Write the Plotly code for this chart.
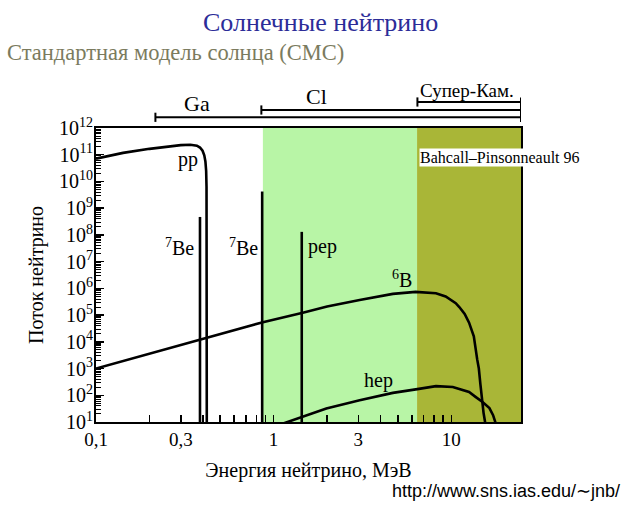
import math
import plotly.graph_objects as go

# ---------------- data ----------------
pp_energy = [0.1, 0.142, 0.2, 0.25, 0.3, 0.34, 0.37, 0.385, 0.398, 0.407, 0.413, 0.417, 0.419, 0.4205]
pp_flux = [7.1e10, 1.17e11, 1.66e11, 2.04e11, 2.29e11, 2.37e11, 2.19e11, 1.86e11,
           1.41e11, 9.5e10, 5.6e10, 2.5e10, 6.3e9, 3]

line_labels = ["<sup>7</sup>Be", "<sup>7</sup>Be", "pep"]
line_energy = [0.385, 0.862, 1.44]
line_flux = [4.7e8, 4.2e9, 1.3e8]

b8_energy = [0.1, 0.2, 0.384, 0.87, 1.46, 2.0, 3.05, 4.69, 6.3, 8.2, 9.3, 10.6, 11.1,
             11.9, 12.6, 13.4, 14.0, 14.3, 14.6, 14.9, 15.2, 15.5, 15.8]
b8_flux = [1.0e3, 3.6e3, 1.23e4, 5.4e4, 1.23e5, 2.1e5, 3.7e5, 6.2e5, 7.4e5, 6.6e5, 5.0e5,
           2.8e5, 2.0e5, 1.1e5, 5.2e4, 1.6e4, 2.2e3, 1.0e3, 250, 65, 22, 10, 3]

hep_energy = [1.0, 1.45, 1.98, 3.05, 4.69, 6.45, 8.2, 10.2, 12.6, 13.7, 15.0, 16.4, 17.2, 17.7, 18.0]
hep_flux = [6.6, 15.5, 32, 65, 123, 170, 219, 204, 132, 87, 56, 33, 18, 10, 4]

detector_names = ["Ga", "Cl", "Супер-Кам."]
detector_threshold = [0.216, 0.853, 6.45]

region_edges = [0.87, 6.42, 24.7]          # Cl-sensitive band, Super-K band
region_colors = ["#B8F5A6", "#A9B637"]

x_ticks = [0.1, 0.3, 1, 3, 10]
x_tick_text = ["0,1", "0,3", "1", "3", "10"]
x_minor = [0.2, 0.4, 0.5, 0.6, 0.7, 0.8, 0.9, 2, 4, 5, 6, 7, 8, 9]

y_exponents = list(range(1, 13))
y_ticks = [10 ** k for k in y_exponents]
y_tick_text = ["10<sup>%d</sup>" % k for k in y_exponents]
y_minor = [m * 10 ** k for k in range(1, 12) for m in range(2, 10)]

E_MIN, E_MAX = 0.1, 24.7
F_MIN, F_MAX = 1e1, 1e12
F_FLOOR = 3  # below the axis: vertical lines run off the bottom

SERIF = "Liberation Serif"
LW = 2.6

# the page's body margin is removed by post_script, so screen px == figure px
W, H = 624, 506
PLOT_L, PLOT_R, PLOT_T, PLOT_B = 96, 521, 128, 422     # screen px of main plot
STRIP_T = 80                                            # top of detector strip
L = PLOT_L
R = W - PLOT_R
T = STRIP_T
B = H - PLOT_B
pw, ph = W - L - R, H - T - B


def px(sx):
    return (sx - L) / pw


def py(sy):
    return (H - B - sy) / ph


main_top = (PLOT_B - PLOT_T) / ph

fig = go.Figure()

# shaded sensitivity regions
for i, col in enumerate(region_colors):
    fig.add_vrect(x0=region_edges[i], x1=region_edges[i + 1], fillcolor=col,
                  line_width=0, layer="below", opacity=1)

# continuum spectra
for name, xs, ys in [("pp", pp_energy, pp_flux), ("8B", b8_energy, b8_flux),
                     ("hep", hep_energy, hep_flux)]:
    fig.add_trace(go.Scatter(x=xs, y=ys, mode="lines",
                             line=dict(color="black", width=LW), name=name))

# line sources
for lab, e, f in zip(line_labels, line_energy, line_flux):
    fig.add_trace(go.Scatter(x=[e, e], y=[F_FLOOR, f], mode="lines",
                             line=dict(color="black", width=LW), name=lab))

# detector threshold brackets (upper strip, y2 in pixels above plot top)
bracket_level = [10.7, 18.0, 26.0]
HALF = 4.6
for thr, lvl in zip(detector_threshold, bracket_level):
    fig.add_trace(go.Scatter(
        x=[thr, thr, None, thr, E_MAX, None, E_MAX, E_MAX],
        y=[lvl - HALF, lvl + HALF, None, lvl, lvl, None, lvl - HALF, lvl + HALF],
        mode="lines", line=dict(color="black", width=2), yaxis="y2",
        cliponaxis=False, showlegend=False))

det_label_pos = [(0.368, 25.0, 22), (1.74, 31.5, 22), (12.3, 38.0, 19)]
for name, (xe, yl, fs) in zip(detector_names, det_label_pos):
    fig.add_annotation(x=math.log10(xe), y=yl, xref="x", yref="y2", text=name,
                       showarrow=False, yanchor="middle",
                       font=dict(family=SERIF, size=fs, color="black"))

# curve labels
labels = [
    ("pp", 0.329, 6.5e10),
    (line_labels[0], 0.296, 3.6e7),
    (line_labels[1], 0.675, 3.6e7),
    (line_labels[2], 1.88, 3.6e7),
    ("<sup>6</sup>B", 5.3, 2.2e6),
    ("hep", 3.9, 3.5e2),
]
for txt, xe, yf in labels:
    fig.add_annotation(x=math.log10(xe), y=math.log10(yf), xref="x", yref="y", text=txt,
                       showarrow=False, font=dict(family=SERIF, size=20, color="black"))

fig.add_annotation(x=math.log10(6.62), y=math.log10(7.6e10), xref="x", yref="y",
                   text="Bahcall–Pinsonneault 96", showarrow=False, xanchor="left",
                   yanchor="middle", bgcolor="white", borderpad=0,
                   font=dict(family=SERIF, size=16, color="black"))

# titles and texts around the plot
fig.add_annotation(x=px(320), y=py(22), xref="paper", yref="paper",
                   xanchor="center", yanchor="middle",
                   text="Солнечные нейтрино", showarrow=False,
                   font=dict(family=SERIF, size=26, color="#2C2C98"))
fig.add_annotation(x=px(5), y=py(53), xref="paper", yref="paper",
                   xanchor="left", yanchor="middle",
                   text="Стандартная модель солнца (СМС)", showarrow=False,
                   font=dict(family=SERIF, size=22.5, color="#7B7B5E"))
fig.add_annotation(x=px(36), y=py(275), xref="paper", yref="paper",
                   xanchor="center", yanchor="middle", textangle=-90,
                   text="Поток нейтрино", showarrow=False,
                   font=dict(family=SERIF, size=20, color="black"))
fig.add_annotation(x=px(622), y=py(491), xref="paper", yref="paper",
                   xanchor="right", yanchor="middle",
                   text="http://www.sns.ias.edu/∼jnb/", showarrow=False,
                   font=dict(family="Liberation Sans", size=18, color="black"))

fig.update_layout(
    width=W, height=H,
    margin=dict(l=L, r=R, t=T, b=B, autoexpand=False),
    plot_bgcolor="white", paper_bgcolor="white",
    showlegend=False, hovermode=False,
    font=dict(family=SERIF, color="black"),
    xaxis=dict(
        type="log", range=[math.log10(E_MIN), math.log10(E_MAX)],
        tickvals=x_ticks, ticktext=x_tick_text,
        ticks="inside", ticklen=7, tickwidth=1.5, tickcolor="black",
        minor=dict(tickvals=x_minor, ticks="inside", ticklen=7, tickwidth=1.5,
                   tickcolor="black", showgrid=False),
        showline=True, linewidth=2, linecolor="black", mirror=True,
        showgrid=False, zeroline=False,
        tickfont=dict(family=SERIF, size=19, color="black"),
        ticklabelstandoff=-1,
        title=dict(text="Энергия нейтрино, МэВ", standoff=14,
                   font=dict(family=SERIF, size=20, color="black")),
        automargin=False,
    ),
    yaxis=dict(
        type="log", range=[math.log10(F_MIN), math.log10(F_MAX)],
        domain=[0, main_top],
        tickvals=y_ticks, ticktext=y_tick_text,
        ticks="inside", ticklen=8, tickwidth=1.5, tickcolor="black",
        minor=dict(tickvals=y_minor, ticks="inside", ticklen=5, tickwidth=1,
                   tickcolor="black", showgrid=False),
        showline=True, linewidth=2, linecolor="black", mirror=True,
        showgrid=False, zeroline=False,
        tickfont=dict(family=SERIF, size=20, color="black"),
        ticklabelstandoff=-3,
        automargin=False,
    ),
    yaxis2=dict(domain=[main_top, 1], range=[0, PLOT_T - STRIP_T],
                visible=False, fixedrange=True),
)

fig.write_html(
    "out.html",
    config={"displayModeBar": False, "staticPlot": True},
    post_script="document.body.style.margin='0';document.body.style.overflow='hidden';",
)
